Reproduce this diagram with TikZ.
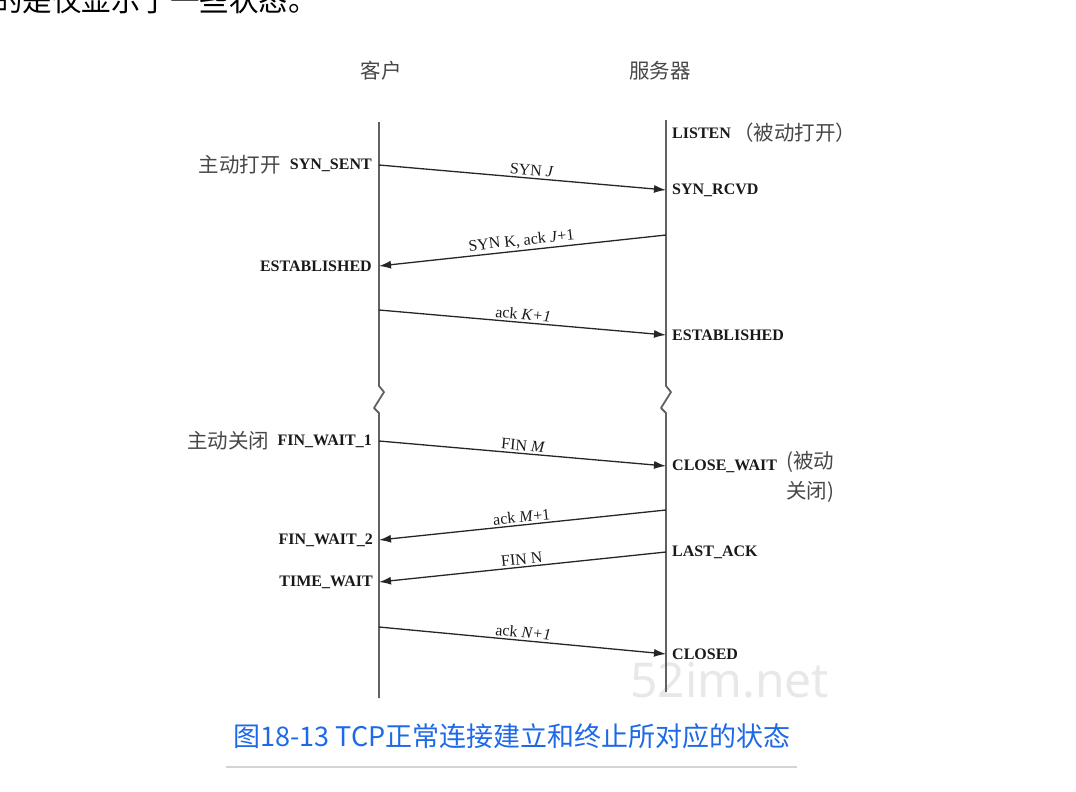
\documentclass[tikz,border=0pt]{standalone}
\usepackage{fontspec}
\setmainfont{Liberation Serif}
\newfontfamily\zhfont{Noto Sans CJK SC}
\newfontfamily\wmfont{Noto Sans}
\usetikzlibrary{arrows.meta,positioning}
\definecolor{capblue}{RGB}{30,105,232}
\definecolor{rulegray}{RGB}{212,212,212}
\tikzset{
  lifeline/.style={black!62, line width=1.8pt, line join=round},
  msg/.style={black!85, line width=1.3pt, -{Latex[length=12pt,width=8pt]}},
  state/.style={inner sep=0pt, text=black!90, font=\fontsize{16}{18}\selectfont\bfseries},
  msglabel/.style={inner sep=2pt, text=black!90, font=\fontsize{16}{18}\selectfont},
  zh/.style={inner sep=0pt, text=black!72, font=\zhfont\fontsize{20.5}{22}\selectfont},
}

\begin{document}
\begin{tikzpicture}[x=1pt,y=-1pt]
    \useasboundingbox (0,0) rectangle (1076,792);
    % Line of text cut off above the figure
    \node[anchor=base west, inner sep=0pt, font=\zhfont\fontsize{29.5}{31}\selectfont] (toptext) at (-7,11.5) {的是仅显示了一些状态。};
    % Watermark
    \node[anchor=west, inner sep=0pt, text=black!9, font=\wmfont\fontsize{48}{50}\selectfont] (watermark) at (630,680) {52im.net};
    % Headings
    \node[zh] (client) at (381,71) {客户};
    \node[zh] (server) at (660,71) {服务器};
    % Lifelines with break marks
    \draw[lifeline] (379,122) -- (379,386) -- (384,392) -- (374,408) -- (379,413) -- (379,698);
    \draw[lifeline] (666,120) -- (666,386) -- (671,392) -- (661,408) -- (666,413) -- (666,692);
    % Message end points
    \coordinate (c1) at (379,165); \coordinate (s1) at (666,190);
    \coordinate (s2) at (666,235); \coordinate (c2) at (379,266);
    \coordinate (c3) at (379,310); \coordinate (s3) at (666,335);
    \coordinate (c4) at (379,441); \coordinate (s4) at (666,466);
    \coordinate (s5) at (666,510); \coordinate (c5) at (379,540);
    \coordinate (s6) at (666,552); \coordinate (c6) at (379,582);
    \coordinate (c7) at (379,627); \coordinate (s7) at (666,654);
    % Connection setup
    \draw[msg] (c1) -- node[msglabel, sloped, above, pos=0.53] (synj) {SYN \textit{J}} (s1);
    \draw[msg] (s2) -- node[msglabel, sloped, above, pos=0.5] (synk) {SYN K, ack \textit{J}+1} (c2);
    \draw[msg] (c3) -- node[msglabel, sloped, above, pos=0.5] (ackk) {ack \textit{K+1}} (s3);
    % Connection termination
    \draw[msg] (c4) -- node[msglabel, sloped, above, pos=0.5] (finm) {FIN \textit{M}} (s4);
    \draw[msg] (s5) -- node[msglabel, sloped, above, pos=0.5] (ackm) {ack \textit{M}+1} (c5);
    \draw[msg] (s6) -- node[msglabel, sloped, above, pos=0.5] (finn) {FIN N} (c6);
    \draw[msg] (c7) -- node[msglabel, sloped, above, pos=0.5] (ackn) {ack \textit{N+1}} (s7);
    % Client states
    \node[state, left=7pt of c1] (synsent) {SYN\_SENT};
    \node[zh, left=9pt of synsent] (activeopen) {主动打开};
    \node[state, left=7pt of c2] (cestab) {ESTABLISHED};
    \node[state, left=7pt of c4] (finwait1) {FIN\_WAIT\_1};
    \node[zh, left=8pt of finwait1] (activeclose) {主动关闭};
    \node[state, left=6pt of c5] (finwait2) {FIN\_WAIT\_2};
    \node[state, left=6pt of c6] (timewait) {TIME\_WAIT};
    % Server states
    \node[state, anchor=west] (listen) at (672,133) {LISTEN};
    \node[zh, right=2pt of listen] (passiveopen) {（被动打开）};
    \node[state, right=6pt of s1] (synrcvd) {SYN\_RCVD};
    \node[state, right=6pt of s3] (sestab) {ESTABLISHED};
    \node[state, right=6pt of s4] (closewait) {CLOSE\_WAIT};
    \node[zh, anchor=west] (passiveclose) at (786,462) {(被动};
    \node[zh, anchor=west] (passiveclosetwo) at (786,492) {关闭)};
    \node[state, right=6pt of s6] (lastack) {LAST\_ACK};
    \node[state, right=6pt of s7] (closed) {CLOSED};
    % Caption
    \node[inner sep=0pt, text=capblue, font=\zhfont\fontsize{27}{29}\selectfont] (caption) at (512,736) {图18-13 TCP正常连接建立和终止所对应的状态};
    \draw[rulegray, line width=2pt] (226,767) -- (797,767);
\end{tikzpicture}
\end{document}
